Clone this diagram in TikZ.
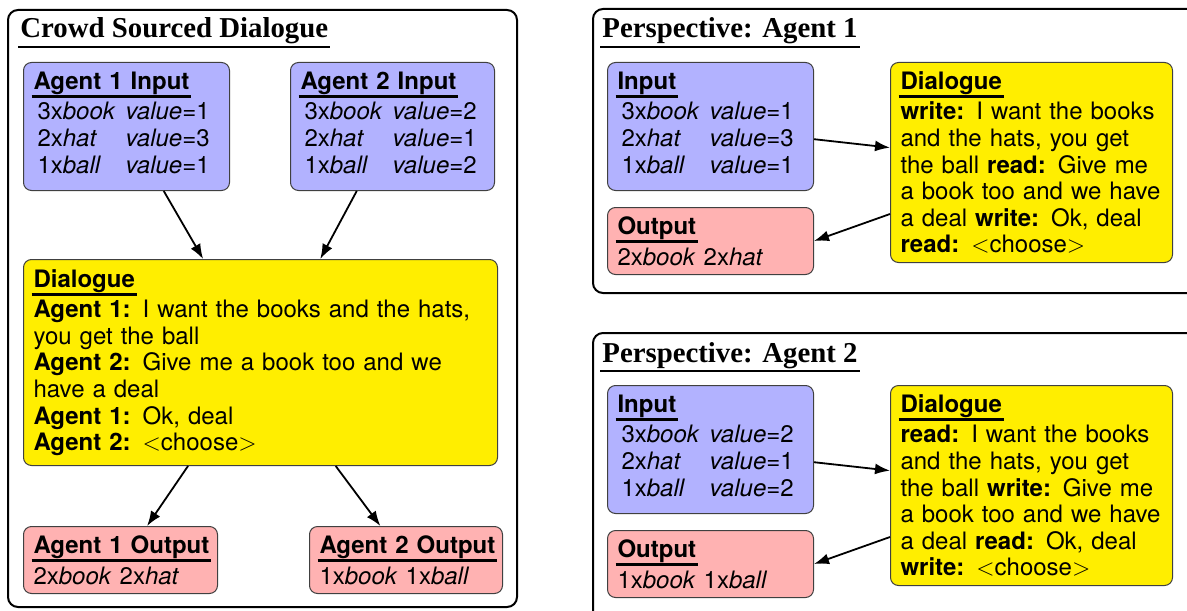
\documentclass[tikz,border=0pt]{standalone}
\usepackage{fontspec}
\setmainfont{TeX Gyre Heros}
\newfontfamily\titlefont{Liberation Serif}
\usepackage{xcolor}
\usepackage{tikz}
\usetikzlibrary{shapes,arrows.meta}

\definecolor{inblue}{RGB}{178,178,255}
\definecolor{outpink}{RGB}{255,178,178}
\definecolor{dlgyellow}{RGB}{255,238,0}

\newlength{\hdw}
\newcommand{\boxhead}[1]{\leavevmode\settowidth{\hdw}{\bfseries #1}\addtolength{\hdw}{2pt}%
  \rlap{\kern-1pt\raisebox{-4.5pt}[0pt][0pt]{\rule{\hdw}{1.5pt}}}\mbox{\bfseries #1}}
\newcommand{\panelhead}[1]{\leavevmode\settowidth{\hdw}{\titlefont\bfseries #1}\addtolength{\hdw}{2pt}%
  \rlap{\kern-1pt\raisebox{-5pt}[0pt][0pt]{\rule{\hdw}{1pt}}}\mbox{\titlefont\bfseries #1}}
\newcommand{\items}[3]{\begin{tabular}[t]{@{\hspace{2pt}}l@{\hspace{5pt}}l@{}}
  3x\textit{book} & \textit{value}=#1\\
  2x\textit{hat} & \textit{value}=#2\\
  1x\textit{ball} & \textit{value}=#3
  \end{tabular}}

\begin{document}
\begin{tikzpicture}[x=0.5pt,y=-0.5pt]
\tikzstyle{box} = [draw=black!75,line width=0.5pt,rounded corners=4pt,anchor=north west,align=left,inner xsep=5pt,inner ysep=2pt,font=\fontsize{12}{13.3}\selectfont];
\tikzstyle{inbox} = [box,fill=inblue,text width=93pt,minimum height=64pt];
\tikzstyle{outbox} = [box,fill=outpink,minimum height=33.5pt];
\tikzstyle{dlgbox} = [box,fill=dlgyellow];
\tikzstyle{ptitle} = [anchor=base west,inner sep=0pt,font=\fontsize{14.4}{16}\selectfont];
\tikzstyle{panel} = [draw,line width=1pt,rounded corners=5pt];
\tikzstyle{link} = [-{Latex[length=7.5pt,width=5.5pt]},line width=0.9pt];
\useasboundingbox (0,0) rectangle (1187,610);
\clip (0,0) rectangle (1187,610);

% crowd sourced side
\draw[panel] (8,10) rectangle (517,607);
\node[ptitle] (t0) at (20,38) {\panelhead{Crowd Sourced Dialogue}};
\node[inbox] (a1in) at (23,62) {\boxhead{Agent 1 Input}\\[2pt]\items{1}{3}{1}};
\node[inbox,text width=92pt] (a2in) at (290,62) {\boxhead{Agent 2 Input}\\[2pt]\items{2}{1}{2}};
\node[dlgbox,text width=227pt,minimum height=103pt] (dlg) at (23,259) {\boxhead{Dialogue}\\[2pt]
  \textbf{Agent 1:} I want the books and the hats,\\ you get the ball\\
  \textbf{Agent 2:} Give me a book too and we\\ have a deal\\
  \textbf{Agent 1:} Ok, deal\\
  \textbf{Agent 2:} $<$choose$>$};
\node[outbox,text width=87pt] (a1out) at (23,526) {\boxhead{Agent 1 Output}\\[2pt]2x\textit{book} 2x\textit{hat}};
\node[outbox,text width=86.5pt] (a2out) at (309,526) {\boxhead{Agent 2 Output}\\[2pt]1x\textit{book} 1x\textit{ball}};
\draw[link] (a1in.-60) -- (dlg.119);
\draw[link] (a2in.-119) -- (dlg.60);
\draw[link] (dlg.-125) -- (a1out.52);
\draw[link] (dlg.-54) -- (a2out.127);

% perspective of agent 1
\draw[panel] (593,9) rectangle (1230,293);
\node[ptitle] (t1) at (602,38) {\panelhead{Perspective: Agent 1}};
\node[inbox] (in1) at (607,62) {\boxhead{Input}\\[2pt]\items{1}{3}{1}};
\node[outbox,text width=93pt] (out1) at (607,207) {\boxhead{Output}\\[2pt]2x\textit{book} 2x\textit{hat}};
\node[dlgbox,text width=131pt,minimum height=100pt] (dlg1) at (890,62) {\boxhead{Dialogue}\\[2pt]
  \textbf{write:} I want the books\\ and the hats, you get\\
  the ball \textbf{read:} Give me\\ a book too and we have\\
  a deal \textbf{write:} Ok, deal\\ \textbf{read:} $<$choose$>$};
\draw[link] (in1.-7) -- (dlg1.174);
\draw[link] (dlg1.-160) -- (out1.east);

% perspective of agent 2
\draw[panel] (593,333) rectangle (1230,650);
\node[ptitle] (t2) at (602,362) {\panelhead{Perspective: Agent 2}};
\node[inbox] (in2) at (607,385) {\boxhead{Input}\\[2pt]\items{2}{1}{2}};
\node[outbox,text width=93pt] (out2) at (607,530) {\boxhead{Output}\\[2pt]1x\textit{book} 1x\textit{ball}};
\node[dlgbox,text width=131pt,minimum height=100pt] (dlg2) at (890,385) {\boxhead{Dialogue}\\[2pt]
  \textbf{read:} I want the books\\ and the hats, you get\\
  the ball \textbf{write:} Give me\\ a book too and we have\\
  a deal \textbf{read:} Ok, deal\\ \textbf{write:} $<$choose$>$};
\draw[link] (in2.-7) -- (dlg2.174);
\draw[link] (dlg2.-160) -- (out2.east);
\end{tikzpicture}
\end{document}
